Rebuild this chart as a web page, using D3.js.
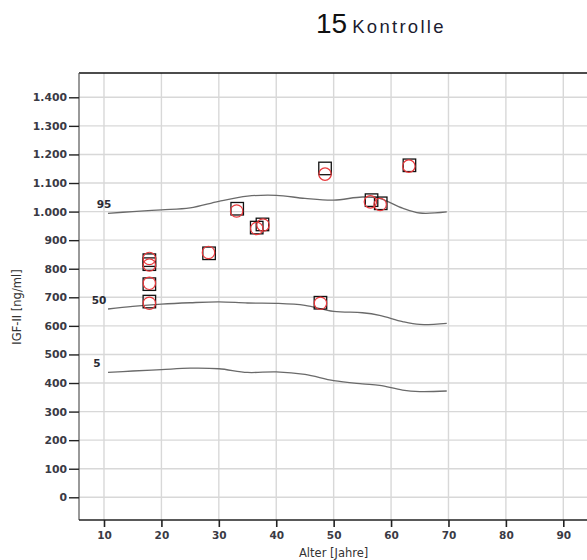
<!DOCTYPE html>
<html>
<head>
<meta charset="utf-8">
<script src="https://cdn.jsdelivr.net/npm/d3@7"></script>
<style>
  html, body { margin: 0; padding: 0; background: #fff; overflow: hidden; }
  svg { display: block; }
  text { font-family: "DejaVu Sans", Verdana, sans-serif; }
</style>
</head>
<body>
<svg id="chart" width="587" height="560"></svg>
<script>
// Percentile reference curves (IGF-II by age)
const pctAges   = [10.7, 15, 20, 25, 30, 35, 40, 45, 50, 55, 58, 62, 65, 69.7];
const p95Values = [994, 1000, 1006, 1013, 1036, 1054, 1057, 1046, 1040, 1051, 1046, 1012, 995, 999];
const p50Values = [659, 668, 676, 681, 684, 680, 679, 672, 651, 646, 637, 615, 605, 609];
const p5Values  = [437, 442, 447, 452, 450, 437, 439, 430, 408, 397, 392, 375, 370, 372];
const pctLabels = ["95", "50", "5"];

// Measurements: squares (first value) and circles (second value)
const squareAges   = [17.9, 17.9, 17.9, 17.9, 28.3, 33.2, 36.6, 37.6, 47.7, 48.5, 56.6, 58.2, 63.2];
const squareValues = [830, 816, 746, 685, 854, 1010, 944, 955, 681, 1151, 1040, 1029, 1162];
const circleAges   = [17.9, 17.9, 17.9, 17.9, 28.2, 33.1, 36.6, 37.7, 47.7, 48.5, 56.4, 58.1, 63.1];
const circleValues = [836, 813, 749, 679, 857, 1002, 941, 953, 679, 1131, 1034, 1025, 1159];

// Axis ticks
const xTicks = [10, 20, 30, 40, 50, 60, 70, 80, 90];
const yTicks = [0, 100, 200, 300, 400, 500, 600, 700, 800, 900, 1000, 1100, 1200, 1300, 1400];

const titleNumber = "15";
const titleText = "Kontrolle";
const xTitle = "Alter [Jahre]";
const yTitle = "IGF-II [ng/ml]";

const svg = d3.select("#chart");

// Plot frame
const plotLeft = 79, plotTop = 73, plotBottom = 520, plotRight = 600;

const x = d3.scaleLinear().domain([10, 90]).range([104, 563.3]);
const y = d3.scaleLinear().domain([0, 1400]).range([497.3, 97.3]);

const de = d3.formatLocale({ decimal: ",", thousands: ".", grouping: [3], currency: ["", " €"] });
const fmt = de.format(",d");

// Grid
const grid = svg.append("g");
grid.selectAll("line.v").data(xTicks).join("line")
  .attr("x1", d => x(d)).attr("x2", d => x(d))
  .attr("y1", plotTop).attr("y2", plotBottom)
  .attr("stroke", "#d8d8d8").attr("stroke-width", 1.4);
grid.selectAll("line.h").data(yTicks).join("line")
  .attr("x1", plotLeft).attr("x2", plotRight)
  .attr("y1", d => y(d)).attr("y2", d => y(d))
  .attr("stroke", "#d8d8d8").attr("stroke-width", 1.4);

// Frame lines
svg.append("line").attr("x1", plotLeft).attr("x2", plotRight).attr("y1", plotTop).attr("y2", plotTop)
  .attr("stroke", "#111").attr("stroke-width", 1.5);
svg.append("line").attr("x1", plotLeft).attr("x2", plotLeft).attr("y1", plotTop).attr("y2", plotBottom)
  .attr("stroke", "#555").attr("stroke-width", 1.2);
svg.append("line").attr("x1", plotLeft).attr("x2", plotRight).attr("y1", plotBottom).attr("y2", plotBottom)
  .attr("stroke", "#222").attr("stroke-width", 1.6);

// Y axis
const yAxis = svg.append("g").attr("transform", `translate(${plotLeft},0)`)
  .call(d3.axisLeft(y).tickValues(yTicks).tickFormat(fmt).tickSize(10).tickPadding(2));
yAxis.select(".domain").remove();
yAxis.selectAll(".tick line").attr("stroke", "#222").attr("stroke-width", 1.4);
yAxis.selectAll(".tick text").attr("fill", "#3a3a44")
  .style("font-family", "DejaVu Sans").style("font-weight", "bold").style("font-size", "10.8px");

// X axis
const xAxis = svg.append("g").attr("transform", `translate(0,${plotBottom})`)
  .call(d3.axisBottom(x).tickValues(xTicks).tickFormat(d3.format("d")).tickSize(7).tickPadding(5));
xAxis.select(".domain").remove();
xAxis.selectAll(".tick line").attr("stroke", "#222").attr("stroke-width", 1.6);
xAxis.selectAll(".tick text").attr("fill", "#3a3a44")
  .style("font-family", "DejaVu Sans").style("font-weight", "bold").style("font-size", "10.5px");

// Axis titles
svg.append("text").attr("x", x(50)).attr("y", 557).attr("text-anchor", "middle")
  .attr("fill", "#333").style("font-size", "11.5px").text(xTitle);
svg.append("text").attr("transform", "translate(21,307) rotate(-90)").attr("text-anchor", "middle")
  .attr("fill", "#333").style("font-size", "11.5px").text(yTitle);

// Title
const title = svg.append("text").attr("x", 316).attr("y", 33).attr("fill", "#111");
title.append("tspan").style("font-family", "Liberation Sans, Arial, sans-serif").style("font-size", "28px").text(titleNumber);
title.append("tspan").attr("dx", 5).attr("fill", "#1c1c30")
  .style("font-family", "Liberation Sans, Arial, sans-serif").style("font-size", "18.5px")
  .style("letter-spacing", "2.3px").text(titleText);

// Percentile curves
const line = d3.line().x(d => x(d[0])).y(d => y(d[1])).curve(d3.curveCatmullRom.alpha(0.5));
const curves = [p95Values, p50Values, p5Values];
const labelDx = [0, -5, -7];
curves.forEach((vals, i) => {
  const pts = pctAges.map((a, j) => [a, vals[j]]);
  svg.append("path").attr("d", line(pts)).attr("fill", "none")
    .attr("stroke", "#6a6a6a").attr("stroke-width", 1.3);
  svg.append("text").attr("x", x(10) + labelDx[i]).attr("y", y(vals[0]) - 5)
    .attr("text-anchor", "middle").attr("fill", "#2a2a33")
    .style("font-weight", "bold").style("font-size", "10.5px")
    .text(pctLabels[i]);
});

// Squares
const sq = 12.5;
svg.append("g").selectAll("rect").data(squareAges.map((a, i) => [a, squareValues[i]])).join("rect")
  .attr("x", d => x(d[0]) - sq / 2).attr("y", d => y(d[1]) - sq / 2)
  .attr("width", sq).attr("height", sq)
  .attr("fill", "none").attr("stroke", "#111").attr("stroke-width", 1.3);

// Circles
svg.append("g").selectAll("circle").data(circleAges.map((a, i) => [a, circleValues[i]])).join("circle")
  .attr("cx", d => x(d[0])).attr("cy", d => y(d[1])).attr("r", 6.2)
  .attr("fill", "none").attr("stroke", "#e8393c").attr("stroke-width", 1.2);
</script>
</body>
</html>
